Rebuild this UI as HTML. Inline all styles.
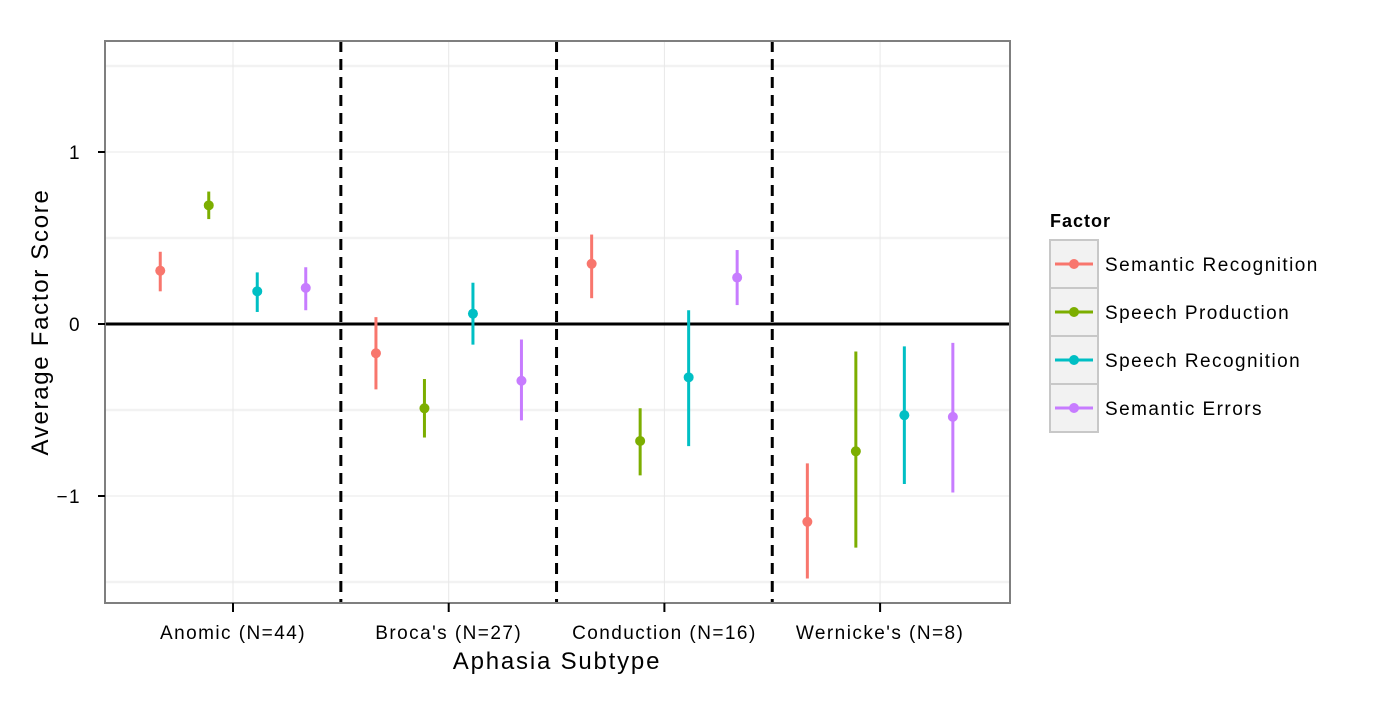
<!DOCTYPE html>
<html><head><meta charset="utf-8"><style>
body{margin:0;background:#fff;font-family:"Liberation Sans",Arial,sans-serif}
svg text{font-family:"Liberation Sans",Arial,sans-serif}
</style></head><body>
<svg id="chart" width="1400" height="700" xmlns="http://www.w3.org/2000/svg">
<rect width="1400" height="700" fill="#fff"/>
<g id="grid"></g>
<g id="marks"></g>
<g id="axes"></g>
<g id="legend"></g>
</svg>
<script>
const categories=["Anomic (N=44)","Broca's (N=27)","Conduction (N=16)","Wernicke's (N=8)"];
const factors=["Semantic Recognition","Speech Production","Speech Recognition","Semantic Errors"];
const colors=["#F8766D","#7CAE00","#00BFC4","#C77CFF"];
const semRecMean=[0.31,-0.17,0.35,-1.15];
const semRecLo=[0.19,-0.38,0.15,-1.48];
const semRecHi=[0.42,0.04,0.52,-0.81];
const spProdMean=[0.69,-0.49,-0.68,-0.74];
const spProdLo=[0.61,-0.66,-0.88,-1.30];
const spProdHi=[0.77,-0.32,-0.49,-0.16];
const spRecMean=[0.19,0.06,-0.31,-0.53];
const spRecLo=[0.07,-0.12,-0.71,-0.93];
const spRecHi=[0.30,0.24,0.08,-0.13];
const semErrMean=[0.21,-0.33,0.27,-0.54];
const semErrLo=[0.08,-0.56,0.11,-0.98];
const semErrHi=[0.33,-0.09,0.43,-0.11];
const yTicks=[-1,0,1];
const yMinor=[-1.5,-0.5,0.5,1.5];
const series=[[semRecMean,semRecLo,semRecHi],[spProdMean,spProdLo,spProdHi],[spRecMean,spRecLo,spRecHi],[semErrMean,semErrLo,semErrHi]];

const NS="http://www.w3.org/2000/svg";
const L=105,R=1010,T=41,B=603;
const y=v=>324-172*v;
const x=i=>233+i*215.7;
const dodge=j=>(j-1.5)*48.5;
function mk(p,tag,a){const e=document.createElementNS(NS,tag);for(const k in a)e.setAttribute(k,a[k]);p.appendChild(e);return e;}
const grid=document.getElementById('grid'),marks=document.getElementById('marks'),axes=document.getElementById('axes'),leg=document.getElementById('legend');
mk(grid,'rect',{x:L,y:T,width:R-L,height:B-T,fill:'#fff'});
yMinor.forEach(v=>{const e=mk(grid,'line',{x1:L,x2:R,y1:y(v),y2:y(v),stroke:'#f2f2f2','stroke-width':2.5});

});
yTicks.forEach(v=>{const e=mk(grid,'line',{x1:L,x2:R,y1:y(v),y2:y(v),stroke:'#e8e8e8','stroke-width':1});

});
categories.forEach((c,i)=>{const e=mk(grid,'line',{x1:x(i),x2:x(i),y1:T,y2:B,stroke:'#e8e8e8','stroke-width':1});

});
const zl=mk(marks,'line',{x1:L,x2:R,y1:y(0),y2:y(0),stroke:'#000','stroke-width':3});


for(let i=0;i<categories.length-1;i++){const xm=(x(i)+x(i+1))/2;
const e=mk(marks,'line',{x1:xm,x2:xm,y1:T,y2:B,stroke:'#000','stroke-width':3,'stroke-dasharray':'11,7'});

}
series.forEach((s,j)=>{categories.forEach((c,i)=>{const cx=x(i)+dodge(j);
const l=mk(marks,'line',{x1:cx,x2:cx,y1:y(s[1][i]),y2:y(s[2][i]),stroke:colors[j],'stroke-width':3});


const p=mk(marks,'circle',{cx:cx,cy:y(s[0][i]),r:5,fill:colors[j]});

});});
const fr=mk(axes,'rect',{x:L,y:T,width:R-L,height:B-T,fill:'none',stroke:'#7f7f7f','stroke-width':2});


yTicks.forEach(v=>{mk(axes,'line',{x1:L-7,x2:L,y1:y(v),y2:y(v),stroke:'#000','stroke-width':2});
const t=mk(axes,'text',{x:L-24,y:y(v)+7,'text-anchor':'end','font-size':19,'letter-spacing':1.4});t.textContent=v<0?'\u22121':String(v);

});
categories.forEach((c,i)=>{mk(axes,'line',{x1:x(i),x2:x(i),y1:B,y2:B+9,stroke:'#000','stroke-width':2});
const t=mk(axes,'text',{x:x(i),y:639,'text-anchor':'middle','font-size':19,'letter-spacing':1.45});t.textContent=c;

});
const xt=mk(axes,'text',{x:557,y:669,'text-anchor':'middle','font-size':24,'letter-spacing':1.8});xt.textContent='Aphasia Subtype';


const yt=mk(axes,'text',{x:0,y:0,'text-anchor':'middle','font-size':24,'letter-spacing':1.7,transform:'translate(48,322) rotate(-90)'});yt.textContent='Average Factor Score';


const lt=mk(leg,'text',{x:1050,y:227,'font-size':18,'font-weight':'bold','letter-spacing':1});lt.textContent='Factor';


factors.forEach((f,j)=>{const ky=240+j*48;
const kb=mk(leg,'rect',{x:1050,y:ky,width:48,height:48,fill:'#f2f2f2',stroke:'#c8c8c8','stroke-width':2});


mk(leg,'line',{x1:1055,x2:1093,y1:ky+24,y2:ky+24,stroke:colors[j],'stroke-width':3});
mk(leg,'circle',{cx:1074,cy:ky+24,r:5,fill:colors[j]});
const t=mk(leg,'text',{x:1105,y:ky+31,'font-size':19,'letter-spacing':1.45});t.textContent=f;

});
</script>
</body></html>
